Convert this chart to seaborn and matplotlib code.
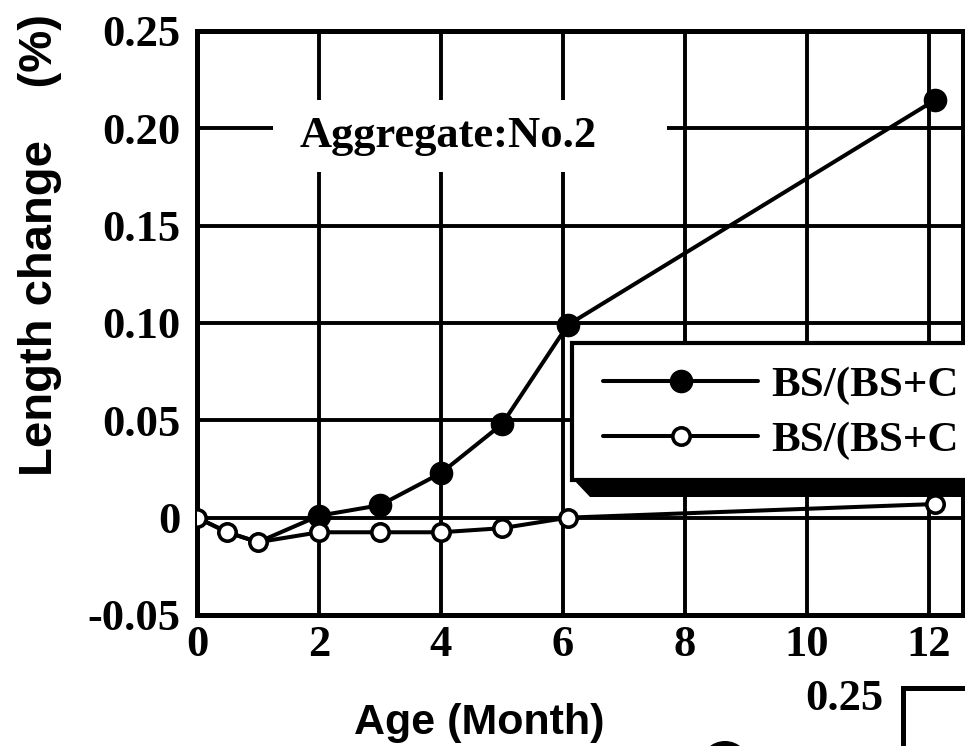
import numpy as np
import pandas as pd
import matplotlib
matplotlib.use("Agg")
import matplotlib.pyplot as plt
import seaborn as sns
from matplotlib.patches import Rectangle, Polygon, Ellipse

# ---- data ----
months_filled = [0, 0.5, 1, 2, 3, 4, 5, 6.08, 12.1]
change_filled = [0, -0.0075, -0.0126, 0.001, 0.0064, 0.0229, 0.048, 0.099, 0.2145]
months_open = [0, 0.5, 1, 2, 3, 4, 5, 6.08, 12.1]
change_open = [0, -0.0075, -0.0126, -0.0075, -0.0075, -0.0075, -0.0054, 0.0, 0.007]
x_ticks = [0, 2, 4, 6, 8, 10, 12]
x_tick_labels = ["0", "2", "4", "6", "8", "10", "12"]
y_ticks = [-0.05, 0, 0.05, 0.10, 0.15, 0.20, 0.25]
y_tick_labels = ["-0.05", "0", "0.05", "0.10", "0.15", "0.20", "0.25"]
legend_labels = ["BS/(BS+C", "BS/(BS+C"]
annotation = "Aggregate:No.2"
x_label = "Age (Month)"
y_label = "Length change    (%)"
next_panel_tick = "0.25"

sns.set_theme(style="white")
plt.rcParams['font.family'] = ['Liberation Serif', 'DejaVu Serif']
plt.rcParams['text.color'] = 'black'

W, H = 965, 746
fig = plt.figure(figsize=(W / 100, H / 100), dpi=100)
L, R, T, B = 197, 963, 31, 615
ax = fig.add_axes([L / W, 1 - B / H, (R - L) / W, (B - T) / H])

def ax_x(px):
    return (px - L) / (R - L)

def ax_y(py):
    return (B - py) / (B - T)

df_f = pd.DataFrame({"Age": months_filled, "Change": change_filled})
df_o = pd.DataFrame({"Age": months_open, "Change": change_open})

# the filled series shares its first three points with the open one
sns.lineplot(data=df_f, x="Age", y="Change", ax=ax, color="black", linewidth=2.9,
             marker="o", markersize=16, markerfacecolor="black",
             markeredgecolor="black", markeredgewidth=1, sort=False, zorder=3,
             markevery=list(range(3, len(months_filled))))
sns.lineplot(data=df_o, x="Age", y="Change", ax=ax, color="black", linewidth=2.9,
             marker="o", markersize=12.5, markerfacecolor="white",
             markeredgecolor="black", markeredgewidth=2.6, sort=False, zorder=4)

ax.set_xlim(0, 12.56)
ax.set_ylim(-0.05, 0.25)
ax.set_xticks(x_ticks)
ax.set_xticklabels(x_tick_labels)
ax.set_yticks(y_ticks)
ax.set_yticklabels(y_tick_labels)
ax.grid(True, color="black", linewidth=2.8)
ax.set_axisbelow(True)
ax.tick_params(length=0)
ax.tick_params(axis="y", pad=12)
ax.tick_params(axis="x", pad=7)
for lab in ax.get_xticklabels() + ax.get_yticklabels():
    lab.set_fontfamily("Liberation Serif")
    lab.set_fontweight("bold")
    lab.set_fontsize(32)
    lab.set_color("black")
for s in ax.spines.values():
    s.set_visible(True)
    s.set_color("black")
    s.set_linewidth(3.6)

ax.set_xlabel(x_label, fontfamily="Liberation Sans", fontweight="bold", fontsize=31, color="black")
ax.xaxis.set_label_coords(ax_x(479), ax_y(703))
ax.set_ylabel(y_label, fontfamily="Liberation Sans", fontweight="bold", fontsize=34, color="black")
ax.yaxis.set_label_coords(ax_x(62), ax_y(245))

# annotation with white background
ax.add_patch(Rectangle((ax_x(273), ax_y(172)), ax_x(667) - ax_x(273), ax_y(100) - ax_y(172),
                       transform=ax.transAxes, facecolor="white", edgecolor="none", zorder=2))
ax.text(ax_x(448), ax_y(147), annotation, transform=ax.transAxes, ha="center", va="baseline",
        fontfamily="Liberation Serif", fontweight="bold", fontsize=32, color="black", zorder=3)

# legend box with heavy shadow
shadow = Polygon([(ax_x(572), ax_y(478)), (ax_x(590), ax_y(497)), (ax_x(1010), ax_y(497)),
                  (ax_x(1010), ax_y(478))], closed=True, transform=ax.transAxes,
                 facecolor="black", edgecolor="none", clip_on=False, zorder=5)
ax.add_patch(shadow)
box = Rectangle((ax_x(572), ax_y(480)), ax_x(1010) - ax_x(572), ax_y(343) - ax_y(480),
                transform=ax.transAxes, facecolor="white", edgecolor="black", linewidth=3,
                clip_on=False, zorder=6)
ax.add_patch(box)

handles = ax.lines[:2]
leg = ax.legend(handles=handles, labels=legend_labels, loc="center left",
                bbox_to_anchor=(ax_x(603), ax_y(413)), bbox_transform=ax.transAxes,
                frameon=False, borderpad=0, borderaxespad=0, handlelength=3.6,
                handletextpad=0.3, labelspacing=0.35, labelcolor="black",
                prop=dict(family="Liberation Serif", weight="bold", size=31))
leg.set_zorder(7)

# fragments of the neighbouring panel
fig.text(883 / W, 1 - 710 / H, next_panel_tick, ha="right", va="baseline",
         fontfamily="Liberation Serif", fontweight="bold", fontsize=32, color="black")
fig.add_artist(Rectangle((903 / W, -0.2), 0.2, (1 - 688 / H) + 0.2, transform=fig.transFigure,
                         fill=False, edgecolor="black", linewidth=3.6))
fig.add_artist(Ellipse((725 / W, 1 - 766 / H), 50 / W, 50 / H, transform=fig.transFigure,
                       facecolor="black", edgecolor="none"))

fig.savefig("out.png", dpi=100)
